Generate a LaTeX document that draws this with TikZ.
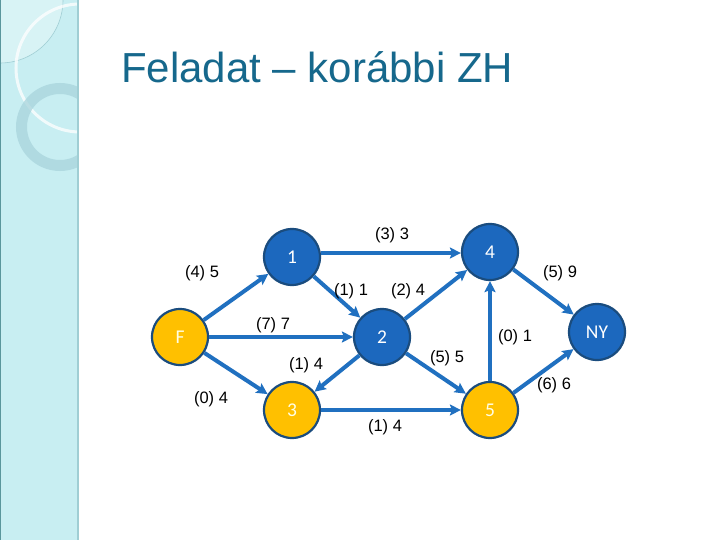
\documentclass[tikz,border=0pt]{standalone}
\usepackage{fontspec}
\setmainfont{Liberation Sans}
\newfontfamily\calib{Carlito}
\usetikzlibrary{arrows.meta}
\definecolor{nodeblue}{RGB}{28,104,190}
\definecolor{nodeborder}{RGB}{26,76,126}
\definecolor{edgeblue}{RGB}{32,112,192}
\definecolor{nodeyellow}{RGB}{255,192,0}
\definecolor{titlecol}{RGB}{22,104,140}
\definecolor{stripcol}{RGB}{200,238,242}
\definecolor{stripedge}{RGB}{160,206,212}
\definecolor{ringcol}{RGB}{168,212,220}
\definecolor{stripline}{RGB}{90,150,156}
\tikzset{
  gnode/.style={circle, minimum size=56pt, inner sep=0pt, draw=nodeborder, line width=2.2pt,
    font=\calib\fontsize{19.5}{19.5}\selectfont, text=white},
  bnode/.style={gnode, fill=nodeblue},
  ynode/.style={gnode, fill=nodeyellow, text=yellow!10},
  edge/.style={draw=edgeblue, line width=4pt, -{Stealth[length=11pt,width=11pt,inset=2pt]}},
  elabel/.style={font=\fontsize{16.5}{17}\selectfont, text=black, inner sep=0pt},
}
\begin{document}
\begin{tikzpicture}[x=1pt,y=-1pt]
\useasboundingbox (0,0) rectangle (720,540);
\fill[white] (0,0) rectangle (720,540);
% left decorative strip
\begin{scope}
  \clip (0,0) rectangle (78,540);
  \fill[stripcol] (0,0) rectangle (78,540);
  \fill[white,opacity=0.3] (0,0) circle (63);
  \draw[stripedge, line width=0.6pt] (0,0) circle (63);
  \draw[white, opacity=0.75, line width=3pt] (80,68) circle (64);
  \draw[ringcol, opacity=0.75, line width=11pt] (60,127) circle (38.5);
\end{scope}
\draw[stripedge, line width=2pt] (78,0) -- (78,540);
\draw[stripline, line width=1pt] (0.5,0) -- (0.5,540);
% title
\node[anchor=base west, inner sep=0pt, text=titlecol, font=\fontsize{42}{42}\selectfont] (title) at (121,83) {Feladat – korábbi ZH};
% nodes
\node[ynode] (F) at (180,337) {F};
\node[bnode] (n1) at (292,257) {1};
\node[bnode] (n2) at (382,337) {2};
\node[ynode] (n3) at (292,410) {3};
\node[bnode] (n4) at (490,252) {4};
\node[ynode] (n5) at (490,410) {5};
\node[bnode] (NY) at (597,332) {NY};
% edges
\draw[edge] (F) -- (n1);
\draw[edge] (F) -- (n2);
\draw[edge] (F) -- (n3);
\draw[edge] (n1.east |- 0,253) -- (n4.west |- 0,253);
\draw[edge] (n1) -- (n2);
\draw[edge] (n2) -- (n4);
\draw[edge] (n2) -- (n3);
\draw[edge] (n2) -- (n5);
\draw[edge] (n3) -- (n5);
\draw[edge] (n5) -- (n4);
\draw[edge] (n4) -- (NY);
\draw[edge] (n5) -- (NY);
% edge labels
\node[elabel] (l33) at (392,235) {(3) 3};
\node[elabel] (l45) at (202,273) {(4) 5};
\node[elabel] (l11) at (351,291) {(1) 1};
\node[elabel] (l24) at (408,291) {(2) 4};
\node[elabel] (l77) at (273,325) {(7) 7};
\node[elabel] (l14a) at (306,365) {(1) 4};
\node[elabel] (l04) at (211,399) {(0) 4};
\node[elabel] (l14b) at (385,427) {(1) 4};
\node[elabel] (l59) at (560,273) {(5) 9};
\node[elabel] (l01) at (515,337) {(0) 1};
\node[elabel] (l55) at (447,358) {(5) 5};
\node[elabel] (l66) at (554,385) {(6) 6};
\end{tikzpicture}
\end{document}
